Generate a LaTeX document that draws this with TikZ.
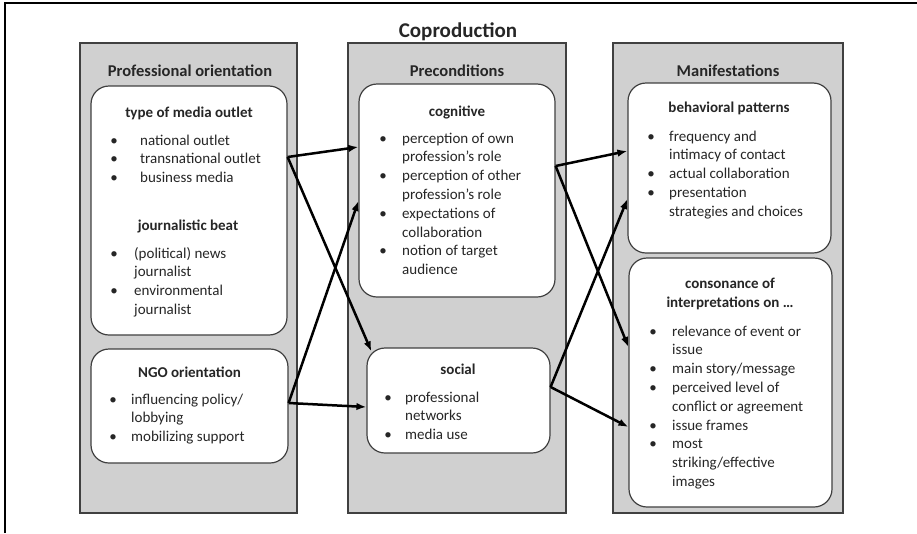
\documentclass[tikz,border=0pt]{standalone}
\usepackage{fontspec}
\setmainfont{Carlito}
\usepackage{tikz}
\usetikzlibrary{positioning,arrows.meta,calc}
\definecolor{boxgray}{RGB}{208,208,208}
\definecolor{edgegray}{RGB}{64,64,64}
\definecolor{inkgray}{RGB}{38,38,38}
\newcommand{\bodyfont}{\fontsize{15}{18.8}\selectfont}
\newcommand{\bl}{\makebox[0pt]{\textbullet}}
\tikzset{
  col/.style={rectangle, draw=edgegray, line width=1.4pt, fill=boxgray, minimum height=470pt, inner sep=0pt},
  wbox/.style={rectangle, rounded corners=18pt, draw=edgegray, line width=1.2pt, fill=white, inner sep=0pt},
  colhd/.style={anchor=base, inner sep=0pt, text=inkgray, font=\fontsize{16.5}{20}\selectfont\bfseries},
  hd/.style={anchor=base, inner sep=0pt, text=inkgray, font=\bodyfont\bfseries},
  lst/.style={anchor=base west, inner sep=0pt, text=inkgray, font=\bodyfont},
  flow/.style={-{Latex[length=10pt,width=7.5pt]}, line width=2.5pt},
  frame/.style={line width=1.8pt}
}

\begin{document}
\begin{tikzpicture}[x=1pt,y=-1pt]
  \useasboundingbox (0,0) rectangle (917,533);
  \draw[frame] (5,533) -- (5,3) -- (917,3);
  \node[anchor=base, inner sep=0pt, text=inkgray, font=\fontsize{21}{25}\selectfont\bfseries] (title) at (458,37) {Coproduction};

  % the three columns
  \node[col, minimum width=217pt] (prof) at (188.5,278) {};
  \node[col, minimum width=218pt] (prec) at (457,278) {};
  \node[col, minimum width=230pt] (mani) at (728,278) {};
  \node[colhd] (profhd) at (190,76) {Professional orientation};
  \node[colhd] (prechd) at (457,76) {Preconditions};
  \node[colhd] (manihd) at (728,76) {Manifestations};

  % professional orientation
  \node[wbox, minimum width=196pt, minimum height=249pt] (media) at (189,210.5) {};
  \node[hd] (mediahd) at (189,117) {type of media outlet};
  \node[lst] (medialist) at (114,145) {\begin{tabular}[t]{@{}l@{\hspace{26pt}}l@{}}
    \bl & national outlet\\
    \bl & transnational outlet\\
    \bl & business media
  \end{tabular}};
  \node[hd] (beathd) at (188,230) {journalistic beat};
  \node[lst] (beatlist) at (114,258) {\begin{tabular}[t]{@{}l@{\hspace{20pt}}l@{}}
    \bl & (political) news\\
        & journalist\\
    \bl & environmental\\
        & journalist
  \end{tabular}};
  \node[wbox, minimum width=197pt, minimum height=114pt] (ngo) at (189.5,406) {};
  \node[hd] (ngohd) at (189.5,377) {NGO orientation};
  \node[lst] (ngolist) at (113,404) {\begin{tabular}[t]{@{}l@{\hspace{18pt}}l@{}}
    \bl & influencing policy/\\
        & lobbying\\
    \bl & mobilizing support
  \end{tabular}};

  % preconditions
  \node[wbox, minimum width=196pt, minimum height=213pt] (cog) at (457,190.5) {};
  \node[hd] (coghd) at (457,116) {cognitive};
  \node[lst] (coglist) at (383,143) {\begin{tabular}[t]{@{}l@{\hspace{19pt}}l@{}}
    \bl & perception of own\\
        & profession’s role\\
    \bl & perception of other\\
        & profession’s role\\
    \bl & expectations of\\
        & collaboration\\
    \bl & notion of target\\
        & audience
  \end{tabular}};
  \node[wbox, minimum width=183pt, minimum height=105pt] (soc) at (458.5,400.5) {};
  \node[hd] (sochd) at (458,374) {social};
  \node[lst] (soclist) at (388,402) {\begin{tabular}[t]{@{}l@{\hspace{17pt}}l@{}}
    \bl & professional\\
        & networks\\
    \bl & media use
  \end{tabular}};

  % manifestations
  \node[wbox, minimum width=203pt, minimum height=170pt] (beh) at (729.5,168) {};
  \node[hd] (behhd) at (729,112) {behavioral patterns};
  \node[lst] (behlist) at (651,141) {\begin{tabular}[t]{@{}l@{\hspace{18pt}}l@{}}
    \bl & frequency and\\
        & intimacy of contact\\
    \bl & actual collaboration\\
    \bl & presentation\\
        & strategies and choices
  \end{tabular}};
  \node[wbox, minimum width=203pt, minimum height=249pt] (cons) at (730.5,382.5) {};
  \node[hd, align=center] (conshd) at (730,307) {consonance of\\interpretations on …};
  \node[lst] (conslist) at (653,336) {\begin{tabular}[t]{@{}l@{\hspace{19pt}}l@{}}
    \bl & relevance of event or\\
        & issue\\
    \bl & main story/message\\
    \bl & perceived level of\\
        & conflict or agreement\\
    \bl & issue frames\\
    \bl & most\\
        & striking/effective\\
        & images
  \end{tabular}};

  % links
  \draw[flow] (media.east |- 0,157) -- (cog.west |- 0,147);
  \draw[flow] (media.east |- 0,157) -- ($(soc.north west)+(5,4)$);
  \draw[flow] (ngo.east |- 0,403) -- (soc.west |- 0,407);
  \draw[flow] (ngo.east |- 0,403) -- (cog.west |- 0,201);
  \draw[flow] (cog.east |- 0,166) -- (beh.west |- 0,151);
  \draw[flow] (cog.east |- 0,166) -- (cons.west |- 0,347);
  \draw[flow] (soc.east |- 0,387) -- (beh.west |- 0,199);
  \draw[flow] (soc.east |- 0,387) -- (cons.west |- 0,427);
\end{tikzpicture}
\end{document}
